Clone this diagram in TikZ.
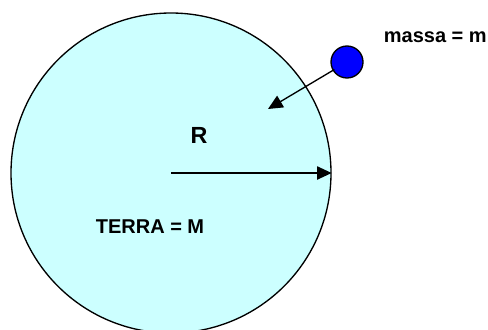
\documentclass[tikz,border=0pt]{standalone}
\usepackage{fontspec}
\setmainfont{Liberation Sans}
\usetikzlibrary{positioning, arrows.meta}
\definecolor{earthcyan}{RGB}{204,255,255}
\definecolor{massblue}{RGB}{0,0,255}

\begin{document}
\begin{tikzpicture}[
  x=0.75pt, y=-0.75pt,
  >={Triangle[length=11pt, width=10pt]},
  every node/.style={font=\fontsize{15}{18}\selectfont\bfseries},
  body/.style  = {circle, draw=black, line width=1pt, inner sep=0pt},
  earth/.style = {body, fill=earthcyan, minimum size=240pt},
  mass/.style  = {body, fill=massblue, minimum size=24pt},
  arr/.style   = {->, line width=1pt, black},
]
  \useasboundingbox (0,0) rectangle (488,329);
  % Earth with its radius, the small mass falling towards it
  \node[earth] (terra) at (171,173) {};
  \node[mass]  (massa) at (347,62)  {};
  \coordinate (fall) at (268,109);
  \node[font=\fontsize{17.5}{20}\selectfont\bfseries] (R) at (199,135) {R};
  \node (Mlab)  at (150,227) {TERRA = M};
  \node[anchor=east, inner sep=0pt] (mlab) at (487,37) {massa = m};
  \draw[arr] (terra.center) -- (terra.east);
  \draw[arr, shorten <=11pt] (massa.center) -- (fall);
\end{tikzpicture}
\end{document}
